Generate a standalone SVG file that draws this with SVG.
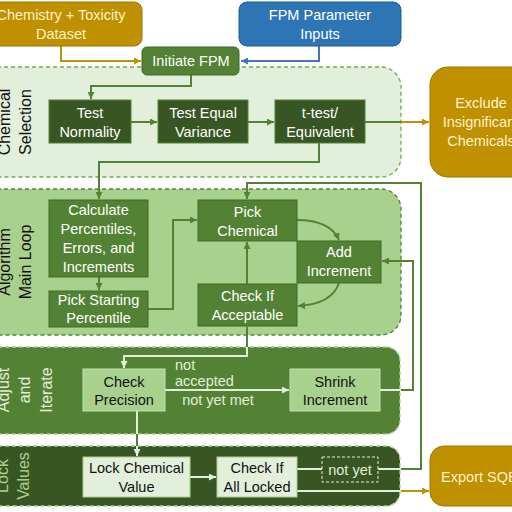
<svg xmlns="http://www.w3.org/2000/svg" width="512" height="512" viewBox="0 0 512 512">
<defs>
<style>
.t{font-family:"Liberation Sans",Arial,sans-serif;font-size:14.5px;text-anchor:middle}
.lb{font-family:"Liberation Sans",Arial,sans-serif;font-size:16px;text-anchor:middle}
.w{fill:#ffffff}.k{fill:#111111}.c{fill:#FFF2CC}.lt{fill:#E2EFDA}.lg{fill:#A9D18E}
.band{stroke-width:1.3;stroke-dasharray:4 3}
.cg{fill:none;stroke:#548235;stroke-width:2}
.cl{fill:none;stroke:#E2EFDA;stroke-width:2}
.cy{fill:none;stroke:#BF9000;stroke-width:2}
.cb{fill:none;stroke:#4472C4;stroke-width:2}
</style>
<marker id="ag" viewBox="0 0 10 10" refX="10" refY="5" markerWidth="7" markerHeight="7" markerUnits="userSpaceOnUse" orient="auto"><path d="M0,0 L10,5 L0,10 z" fill="#548235"/></marker>
<marker id="al" viewBox="0 0 10 10" refX="10" refY="5" markerWidth="7" markerHeight="7" markerUnits="userSpaceOnUse" orient="auto"><path d="M0,0 L10,5 L0,10 z" fill="#E2EFDA"/></marker>
<marker id="ay" viewBox="0 0 10 10" refX="10" refY="5" markerWidth="7" markerHeight="7" markerUnits="userSpaceOnUse" orient="auto"><path d="M0,0 L10,5 L0,10 z" fill="#BF9000"/></marker>
<marker id="ab" viewBox="0 0 10 10" refX="10" refY="5" markerWidth="7" markerHeight="7" markerUnits="userSpaceOnUse" orient="auto"><path d="M0,0 L10,5 L0,10 z" fill="#4472C4"/></marker>
</defs>
<rect width="512" height="512" fill="#ffffff"/>

<!-- bands -->
<g id="band-chemical-selection">
<rect class="band" x="-30" y="67" width="431" height="110" rx="20" fill="#E2EFDA" stroke="#70AD47"/>
<text class="lb k" transform="translate(0,122) rotate(-90)"><tspan x="0" y="9.5">Chemical</tspan><tspan x="0" y="31">Selection</tspan></text>
</g>
<g id="band-main-loop">
<rect class="band" x="-30" y="189" width="431" height="146" rx="20" fill="#A9D18E" stroke="#548235"/>
<text class="lb k" transform="translate(0,262) rotate(-90)"><tspan x="0" y="9.5">Algorithm</tspan><tspan x="0" y="30.5">Main Loop</tspan></text>
</g>
<g id="band-adjust">
<rect class="band" x="-30" y="347" width="430" height="87" rx="14" fill="#548235" stroke="#A9D18E"/>
<text class="lb lt" transform="translate(0,390) rotate(-90)"><tspan x="0" y="9">Adjust</tspan><tspan x="0" y="30">and</tspan><tspan x="0" y="51.5">Iterate</tspan></text>
</g>
<g id="band-lock">
<rect class="band" x="-30" y="446" width="430" height="60" rx="14" fill="#375623" stroke="#A9D18E"/>
<text class="lb lg" transform="translate(0,476) rotate(-90)"><tspan x="0" y="7.5">Lock</tspan><tspan x="0" y="28.5">Values</tspan></text>
</g>

<!-- connectors -->
<g id="connectors">
<path class="cy" d="M61,46 V61 H141" marker-end="url(#ay)"/>
<path class="cb" d="M319,46 V61 H241" marker-end="url(#ab)"/>
<path class="cg" d="M191,75 V86 H91 V99" marker-end="url(#ag)"/>
<path class="cg" d="M131,122 H157" marker-end="url(#ag)"/>
<path class="cg" d="M248,122 H274" marker-end="url(#ag)"/>
<path class="cg" d="M365,122 H401"/>
<path class="cy" d="M401,122 H429" marker-end="url(#ay)"/>
<path class="cg" d="M319,143 V162 H99 V199" marker-end="url(#ag)"/>
<path class="cg" d="M99,277 V290" marker-end="url(#ag)"/>
<path class="cg" d="M148,309 H173 V220 H197" marker-end="url(#ag)"/>
<path class="cg" d="M297,220 Q330,220 339,240" marker-end="url(#ag)"/>
<path class="cg" d="M339,283 Q332,304 298,306" marker-end="url(#ag)"/>
<path class="cg" d="M247,284 V242" marker-end="url(#ag)"/>
<path class="cg" d="M401,469 H421 V183 H247 V199" marker-end="url(#ag)"/>
<path class="cg" d="M401,390 H413 V261 H382" marker-end="url(#ag)"/>
<path class="cg" d="M247,327 V347"/>
<path class="cl" d="M247,347 V356 H124 V368" marker-end="url(#al)"/>
<path class="cl" d="M165,390 H289" marker-end="url(#al)"/>
<path class="cl" d="M380,390 H401"/>
<path class="cl" d="M137,411 V434"/>
<path class="cg" d="M137,434 V446"/>
<path class="cl" d="M137,446 V456" marker-end="url(#al)"/>
<path class="cl" d="M190,477 H216" marker-end="url(#al)"/>
<path class="cl" d="M297,469 H322 M378,469 H401"/>
<path class="cl" d="M297,491 H401"/>
<path class="cy" d="M401,491 H429" marker-end="url(#ay)"/>
<text class="t lt" x="175" y="370" style="text-anchor:start">not</text>
<text class="t lt" x="175" y="386" style="text-anchor:start">accepted</text>
<text class="t lt" x="218" y="405">not yet met</text>
<g id="not-yet-label">
<rect x="322" y="457" width="56" height="25" fill="#375623" stroke="#E2EFDA" stroke-width="1" stroke-dasharray="3 2"/>
<text class="t lt" x="350" y="475">not yet</text>
</g>
</g>

<!-- nodes -->
<g id="chem-tox-dataset">
<rect x="-20" y="2" width="162" height="44" rx="8" fill="#BF9000" stroke="#9C7600" stroke-width="1"/>
<text class="t c"><tspan x="61" y="20">Chemistry + Toxicity</tspan><tspan x="61" y="39">Dataset</tspan></text>
</g>
<g id="fpm-parameter-inputs">
<rect x="239" y="2" width="162" height="44" rx="8" fill="#2E75B6" stroke="#1F5A8F" stroke-width="1"/>
<text class="t w"><tspan x="320" y="20">FPM Parameter</tspan><tspan x="320" y="39">Inputs</tspan></text>
</g>
<g id="initiate-fpm">
<rect x="142" y="47" width="97" height="28" rx="5" fill="#548235" stroke="#3F6B28" stroke-width="1"/>
<text class="t w" x="191" y="66">Initiate FPM</text>
</g>
<g id="test-normality">
<rect x="49" y="100" width="82" height="43" fill="#375623" stroke="#548235" stroke-width="1"/>
<text class="t w"><tspan x="90" y="118">Test</tspan><tspan x="90" y="137">Normality</tspan></text>
</g>
<g id="test-equal-variance">
<rect x="158" y="100" width="90" height="43" fill="#375623" stroke="#548235" stroke-width="1"/>
<text class="t w"><tspan x="203" y="118">Test Equal</tspan><tspan x="203" y="137">Variance</tspan></text>
</g>
<g id="t-test">
<rect x="275" y="100" width="90" height="43" fill="#375623" stroke="#548235" stroke-width="1"/>
<text class="t w"><tspan x="320" y="118">t-test/</tspan><tspan x="320" y="137">Equivalent</tspan></text>
</g>
<g id="exclude-insignificant">
<rect x="430" y="67" width="110" height="110" rx="18" fill="#BF9000" stroke="#9C7600" stroke-width="1"/>
<text class="t c"><tspan x="481" y="108">Exclude</tspan><tspan x="481" y="127">Insignificant</tspan><tspan x="481" y="146">Chemicals</tspan></text>
</g>
<g id="calculate-percentiles">
<rect x="49" y="200" width="99" height="77" fill="#548235" stroke="#3F6B28" stroke-width="1"/>
<text class="t w"><tspan x="98.5" y="215">Calculate</tspan><tspan x="98.5" y="234">Percentiles,</tspan><tspan x="98.5" y="253">Errors, and</tspan><tspan x="98.5" y="272">Increments</tspan></text>
</g>
<g id="pick-starting-percentile">
<rect x="49" y="291" width="99" height="36" fill="#548235" stroke="#3F6B28" stroke-width="1"/>
<text class="t w"><tspan x="98.5" y="305">Pick Starting</tspan><tspan x="98.5" y="323">Percentile</tspan></text>
</g>
<g id="pick-chemical">
<rect x="198" y="200" width="99" height="41" fill="#548235" stroke="#3F6B28" stroke-width="1"/>
<text class="t w"><tspan x="247.5" y="217">Pick</tspan><tspan x="247.5" y="236">Chemical</tspan></text>
</g>
<g id="add-increment">
<rect x="297" y="241" width="84" height="42" fill="#548235" stroke="#3F6B28" stroke-width="1"/>
<text class="t w"><tspan x="339" y="257">Add</tspan><tspan x="339" y="276">Increment</tspan></text>
</g>
<g id="check-if-acceptable">
<rect x="198" y="284" width="99" height="42" fill="#548235" stroke="#3F6B28" stroke-width="1"/>
<text class="t w"><tspan x="247.5" y="301">Check If</tspan><tspan x="247.5" y="320">Acceptable</tspan></text>
</g>
<g id="check-precision">
<rect x="83" y="369" width="82" height="42" fill="#A9D18E" stroke="#C5E0B4" stroke-width="1"/>
<text class="t k"><tspan x="124" y="387">Check</tspan><tspan x="124" y="405">Precision</tspan></text>
</g>
<g id="shrink-increment">
<rect x="290" y="369" width="90" height="42" fill="#A9D18E" stroke="#C5E0B4" stroke-width="1"/>
<text class="t k"><tspan x="335" y="387">Shrink</tspan><tspan x="335" y="405">Increment</tspan></text>
</g>
<g id="lock-chemical-value">
<rect x="83" y="457" width="107" height="40" fill="#E2EFDA" stroke="#A9D18E" stroke-width="1"/>
<text class="t k"><tspan x="136.5" y="473">Lock Chemical</tspan><tspan x="136.5" y="492">Value</tspan></text>
</g>
<g id="check-all-locked">
<rect x="217" y="457" width="80" height="40" fill="#E2EFDA" stroke="#A9D18E" stroke-width="1"/>
<text class="t k"><tspan x="257" y="473">Check If</tspan><tspan x="257" y="492">All Locked</tspan></text>
</g>
<g id="export-sqbs">
<rect x="430" y="446" width="110" height="60" rx="14" fill="#BF9000" stroke="#9C7600" stroke-width="1"/>
<text class="t c" x="483" y="482">Export SQBs</text>
</g>
</svg>
